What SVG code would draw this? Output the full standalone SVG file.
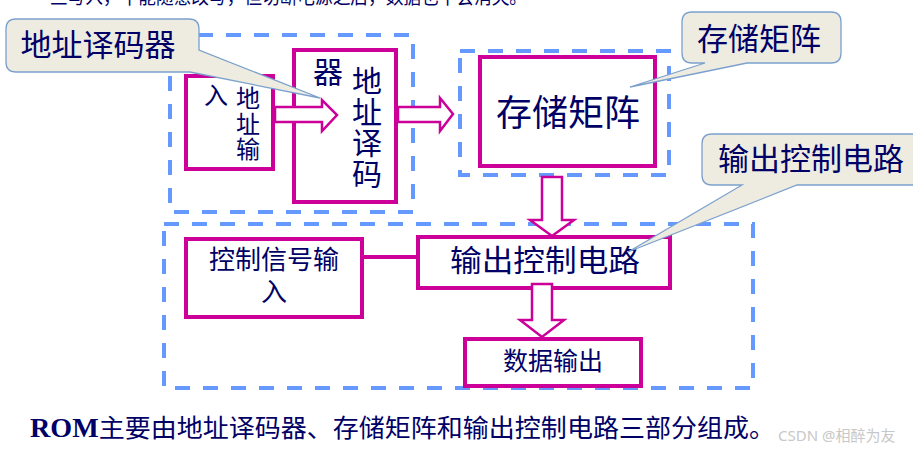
<svg xmlns="http://www.w3.org/2000/svg" width="913" height="449" viewBox="0 0 913 449">
<style>
  .t { font-family: "Noto Sans CJK SC", "Noto Sans", sans-serif; fill: #000066; }
  .v { writing-mode: vertical-rl; }
  .dash { fill: none; stroke: #6699FF; stroke-width: 4; stroke-dasharray: 15 13; }
  .box { fill: #FFFFFF; stroke: #CC0099; stroke-width: 4; }
  .arr { fill: #FFFFFF; stroke: #CC0099; stroke-width: 2.5; stroke-linejoin: miter; }
  .line { fill: none; stroke: #CC0099; stroke-width: 4; }
  .call { fill: #EEECE1; stroke: #7BA0CD; stroke-width: 1.3; }
</style>
<rect x="0" y="0" width="913" height="449" fill="#FFFFFF"/>

<!-- clipped heading line at top -->
<text class="t" x="50" y="4" font-size="20" textLength="477" lengthAdjust="spacingAndGlyphs">旦写入，不能随意改写，但切断电源之后，数据也不会消失。</text>

<!-- dashed groupings -->
<g id="groups">
  <rect class="dash" x="170" y="35" width="243" height="177"/>
  <rect class="dash" x="460" y="51" width="209" height="124"/>
  <rect class="dash" x="164" y="224" width="589" height="164"/>
</g>

<g id="addr-input">
  <rect class="box" x="186" y="76" width="87" height="93"/>
  <text class="t v" x="248" y="86" font-size="24" letter-spacing="1.5">地址输</text>
  <text class="t v" x="216" y="83" font-size="24">入</text>
</g>

<g id="addr-decoder">
  <rect class="box" x="294" y="50" width="102" height="152"/>
  <text class="t v" x="367" y="66" font-size="30" letter-spacing="1">地址译码</text>
  <text class="t v" x="328" y="57" font-size="30">器</text>
</g>

<g id="storage-matrix">
  <rect class="box" x="480" y="57" width="175" height="109"/>
  <text class="t" x="568" y="126" font-size="36" text-anchor="middle">存储矩阵</text>
</g>

<g id="control-input">
  <rect class="box" x="186" y="239" width="176" height="78"/>
  <text x="274" y="269" font-size="26" fill="#000066" text-anchor="middle" font-family="'Liberation Sans', 'Noto Sans CJK SC', sans-serif">控制信号输</text>
  <text x="274" y="301" font-size="26" fill="#000066" text-anchor="middle" font-family="'Liberation Sans', 'Noto Sans CJK SC', sans-serif">入</text>
</g>

<g id="output-control">
  <rect class="box" x="418" y="237" width="252" height="51"/>
  <text class="t" x="545" y="271" font-size="30" text-anchor="middle" textLength="190" lengthAdjust="spacingAndGlyphs">输出控制电路</text>
</g>

<g id="data-output">
  <rect class="box" x="465" y="339" width="176" height="47"/>
  <text class="t" x="553" y="370" font-size="25" text-anchor="middle">数据输出</text>
</g>

<g id="connectors">
  <path class="arr" d="M275,107 H322 V100 L337,115 L322,131 V122 H275 Z"/>
  <path class="arr" d="M398,107 H440 V98 L453,114 L440,131 V122 H398 Z"/>
  <path class="arr" d="M542,177 H562 V220 H574 L552,236 L530,220 H542 Z"/>
  <path class="arr" d="M532,284 H552 V320 H564 L542,337 L520,320 H532 Z"/>
  <line class="line" x1="362" y1="257" x2="418" y2="257"/>
</g>

<g id="callout-decoder">
  <path class="call" d="M16,19 H189 Q199,19 199,29 V50 L320,98 L190,72 H16 Q6,72 6,62 V29 Q6,19 16,19 Z"/>
  <text class="t" x="98" y="56" font-size="31" text-anchor="middle">地址译码器</text>
</g>

<g id="callout-storage">
  <path class="call" d="M692,12 H831 Q841,12 841,22 V53 Q841,63 831,63 H747 L630,87 L705,63 H692 Q682,63 682,53 V22 Q682,12 692,12 Z"/>
  <text class="t" x="759" y="50" font-size="31" text-anchor="middle">存储矩阵</text>
</g>

<g id="callout-output">
  <path class="call" d="M712,134 H920 Q930,134 930,144 V175 Q930,185 920,185 H797 L628,252 L742,185 H712 Q702,185 702,175 V144 Q702,134 712,134 Z"/>
  <text class="t" x="811" y="170" font-size="31" text-anchor="middle">输出控制电路</text>
</g>

<text x="30" y="437" font-size="25" fill="#000066" textLength="745" lengthAdjust="spacingAndGlyphs"><tspan font-family="'Liberation Serif', serif" font-weight="bold" font-size="27">ROM</tspan><tspan font-family="'Noto Sans CJK SC', sans-serif">主要由地址译码器、存储矩阵和输出控制电路三部分组成。</tspan></text>

<text x="778" y="441" font-size="15" fill="#C8C8C8" font-family="'Noto Sans', 'Noto Sans CJK SC', sans-serif">CSDN @相醉为友</text>
</svg>
